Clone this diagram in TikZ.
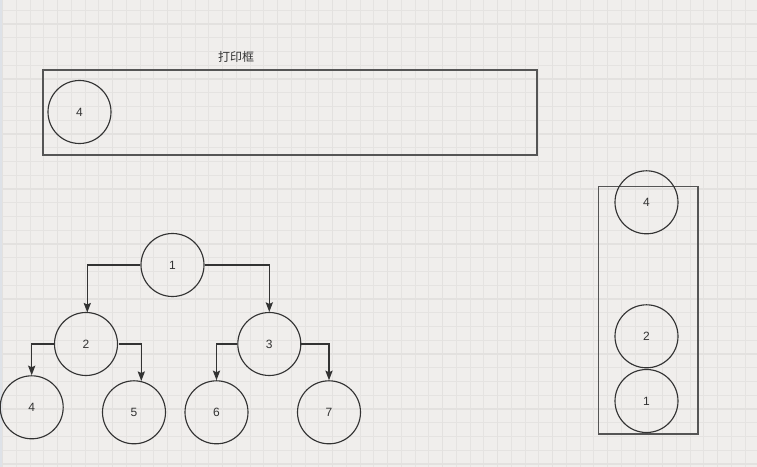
\documentclass[tikz,border=0pt]{standalone}
\usepackage{fontspec}
\setmainfont{Liberation Sans}
\newfontfamily\cjk{Noto Sans CJK SC}
\usetikzlibrary{arrows.meta}
\definecolor{bgc}{RGB}{240,238,236}
\definecolor{minorc}{RGB}{229,227,225}
\definecolor{majorc}{RGB}{227,225,223}
\definecolor{ink}{RGB}{51,51,51}
\definecolor{boxc}{RGB}{85,85,85}
\definecolor{edgestrip}{RGB}{222,226,232}
\tikzset{
  ball/.style={circle, draw=ink, line width=0.85pt, inner sep=0pt, minimum size=47.25pt, font=\fontsize{9}{10}\selectfont, text=ink},
  framebox/.style={rectangle, draw=boxc, line width=1.1pt, inner sep=0pt},
  edge/.style={draw=ink, line width=1pt, -{Stealth[length=7.2pt, width=5.4pt, inset=1.2pt]}},
  lbl/.style={font=\cjk\fontsize{9}{10}\selectfont, text=ink, inner sep=0pt}
}
\begin{document}
\begin{tikzpicture}[x=0.75pt, y=-0.75pt]
\useasboundingbox (0,0) rectangle (757,467);
\fill[bgc] (0,0) rectangle (757,467);
% minor grid
\foreach \i in {0,...,55} {
  \draw[minorc, line width=0.8pt] ({2.7+13.75*\i},0) -- ({2.7+13.75*\i},467);
}
\foreach \j in {-1,...,33} {
  \draw[minorc, line width=0.8pt] (0,{24+13.75*\j}) -- (757,{24+13.75*\j});
}
% major grid
\foreach \i in {0,...,13} {
  \draw[majorc, line width=1.1pt] ({2.7+55*\i},0) -- ({2.7+55*\i},467);
}
\foreach \j in {0,...,8} {
  \draw[majorc, line width=1.1pt] (0,{24+55*\j}) -- (757,{24+55*\j});
}
\fill[edgestrip] (0,0) rectangle (2,467);

% print box
\node[lbl] (title) at (236,57) {打印框};
\node[framebox, minimum width=370.5pt, minimum height=63.75pt] (printbox) at (290,112.4) {};
\node[ball] (p4) at (79.5,112) {4};

% tree
\node[ball] (t1) at (172.5,265) {1};
\node[ball] (t2) at (86,344) {2};
\node[ball] (t3) at (269.3,344) {3};
\node[ball] (t4) at (31.7,407.3) {4};
\node[ball] (t5) at (134,412.3) {5};
\node[ball] (t6) at (216.5,412.3) {6};
\node[ball] (t7) at (329,412.3) {7};
\coordinate (t2in) at (87.3,312.5);
\coordinate (t5in) at (141.3,381);
\coordinate (t2out) at (119,344);

\draw[edge] (t1.west) -| (t2in);
\draw[edge] (t1.east) -| (t3.north);
\draw[edge] (t2.west) -| (t4.north);
\draw[edge] (t2out) -| (t5in);
\draw[edge] (t3.west) -| (t6.north);
\draw[edge] (t3.east) -| (t7.north);

% stack
\node[framebox, minimum width=74.5pt, minimum height=185.5pt] (stackbox) at (648.35,310.35) {};
\node[ball] (s4) at (646.5,202.3) {4};
\node[ball] (s2) at (646.5,336.3) {2};
\node[ball] (s1) at (646.5,401) {1};
\end{tikzpicture}
\end{document}
